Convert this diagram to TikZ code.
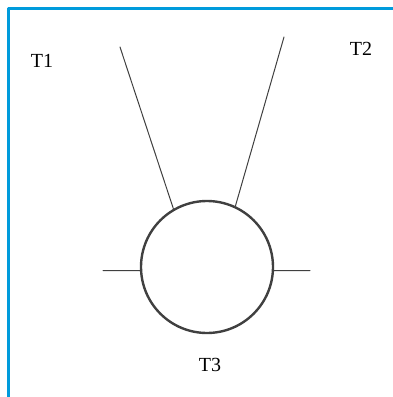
\documentclass[tikz,border=0pt]{standalone}
\usepackage{fontspec}
\setmainfont{Liberation Serif}
\definecolor{frameblue}{RGB}{0,155,220}
\tikzset{
    lab/.style={
        font=\fontsize{20}{24}\selectfont, inner sep=0pt
    },
    wire/.style={line width=1pt, draw=black!75},
    hubring/.style={circle, draw=black!75, line width=2.4pt,
        minimum size=132pt, inner sep=0pt}
}
\begin{document}
\begin{tikzpicture}[x=1pt,y=-1pt,line cap=round,line join=round]

% --- page size (tuned to match the reference) ---
    \useasboundingbox (0,0) rectangle (393,397);

% blue frame (top and left edges only)
    \draw[frameblue, line width=3pt, line cap=butt] (8,397) -- (8,8) -- (393,8);

% central ring
    \node[hubring] (hub) at (207,267) {};

% free ends of the wires
    \coordinate (e1) at (120,47);
    \coordinate (e2) at (284,37);
    \coordinate (eL) at (103,270.5);
    \coordinate (eR) at (310,270.5);

% wires to the ring
    \draw[wire] (e1) -- (hub.120);
    \draw[wire] (e2) -- (hub.65);
    \draw[wire] (eL) -- (hub.183);
    \draw[wire] (eR) -- (hub.-3);

% terminal labels
    \node[lab] (t1) at (42,61) {T1};
    \node[lab] (t2) at (361,49) {T2};
    \node[lab] (t3) at (210,365) {T3};

\end{tikzpicture}
\end{document}
